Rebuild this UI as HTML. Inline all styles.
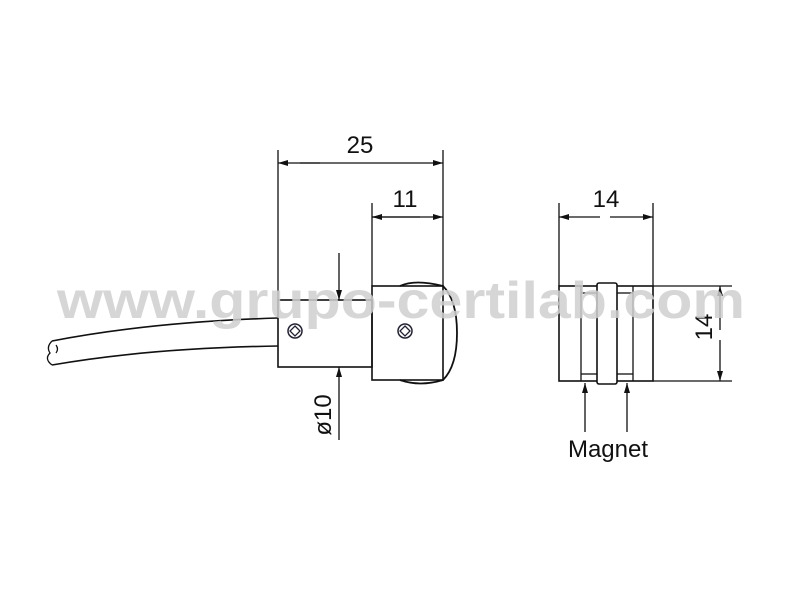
<!DOCTYPE html>
<html><head><style>body{margin:0;background:#fff}svg{display:block}</style></head>
<body>
<svg width="800" height="600" viewBox="0 0 800 600" xmlns="http://www.w3.org/2000/svg" font-family="Liberation Sans, sans-serif">
<defs>
<marker id="a" viewBox="0 0 10 6" refX="10" refY="3" markerWidth="16" markerHeight="6" markerUnits="userSpaceOnUse" orient="auto"><path d="M0,0L10,3L0,6z" fill="#111"/></marker>
</defs>
<g stroke="#111" stroke-width="1.3" fill="none">
<line x1="278" y1="150" x2="278" y2="300"/>
<line x1="443" y1="150" x2="443" y2="286"/>
<line x1="372" y1="203" x2="372" y2="286"/>
<line x1="300" y1="163" x2="443" y2="163" marker-end="url(#a)"/>
<line x1="320" y1="163" x2="278" y2="163" marker-end="url(#a)"/>
<line x1="372" y1="217" x2="443" y2="217" marker-end="url(#a)"/>
<line x1="420" y1="217" x2="372" y2="217" marker-end="url(#a)"/>
<path d="M52,341 Q150,322 278,318" stroke-width="1.6"/>
<path d="M52,365 Q150,348 278,346" stroke-width="1.6"/>
<path d="M52,341 q-6,6 -2,12 q-6,6 2,12" />
<path d="M56,345 q3,4 0,8"/>
<rect x="278" y="300" width="94" height="67" stroke-width="1.6"/>
<rect x="372" y="286" width="71" height="94" stroke-width="1.6"/>
<path d="M400,286 Q415,279 443,286 Q457,300 457,333 Q457,366 443,380 Q420,387 400,380" stroke-width="1.8"/>
<circle cx="295" cy="331" r="7" stroke="#223" stroke-width="1.5"/>
<path d="M295,326 L300,331 L295,336 L290,331Z" stroke="#223"/>
<circle cx="405" cy="331" r="7" stroke="#223" stroke-width="1.5"/>
<path d="M405,326 L410,331 L405,336 L400,331Z" stroke="#223"/>
<line x1="339" y1="253" x2="339" y2="300" marker-end="url(#a)"/>
<line x1="339" y1="440" x2="339" y2="367" marker-end="url(#a)"/>
<line x1="559" y1="203" x2="559" y2="286"/>
<line x1="653" y1="203" x2="653" y2="286"/>
<line x1="600" y1="217" x2="559" y2="217" marker-end="url(#a)"/>
<line x1="610" y1="217" x2="653" y2="217" marker-end="url(#a)"/>
<rect x="559" y="286" width="94" height="95" stroke-width="1.6"/>
<line x1="581" y1="286" x2="581" y2="381"/>
<line x1="633" y1="286" x2="633" y2="381"/>
<line x1="581" y1="293" x2="597" y2="293"/>
<line x1="617" y1="293" x2="633" y2="293"/>
<line x1="581" y1="374" x2="597" y2="374"/>
<line x1="617" y1="374" x2="633" y2="374"/>
<rect x="597" y="283" width="20" height="101" rx="2" fill="#fff" stroke-width="1.6"/>
<line x1="653" y1="286" x2="732" y2="286"/>
<line x1="653" y1="381" x2="732" y2="381"/>
<line x1="720" y1="330" x2="720" y2="286" marker-end="url(#a)"/>
<line x1="720" y1="340" x2="720" y2="381" marker-end="url(#a)"/>
<line x1="585" y1="432" x2="585" y2="383" marker-end="url(#a)"/>
<line x1="627" y1="432" x2="627" y2="383" marker-end="url(#a)"/>
</g>
<g fill="#111" font-size="24">
<text x="360" y="153" text-anchor="middle">25</text>
<text x="405" y="207" text-anchor="middle">11</text>
<text x="606" y="207" text-anchor="middle">14</text>
<text transform="translate(331,415) rotate(-90)" text-anchor="middle">ø10</text>
<text transform="translate(712,327) rotate(-90)" text-anchor="middle">14</text>
<text x="608" y="457" text-anchor="middle">Magnet</text>
</g>
<text x="57" y="318" font-size="52" font-weight="bold" fill="#cfcfcf" fill-opacity="0.85" textLength="688" lengthAdjust="spacingAndGlyphs">www.grupo-certilab.com</text>
</svg>
</body></html>
